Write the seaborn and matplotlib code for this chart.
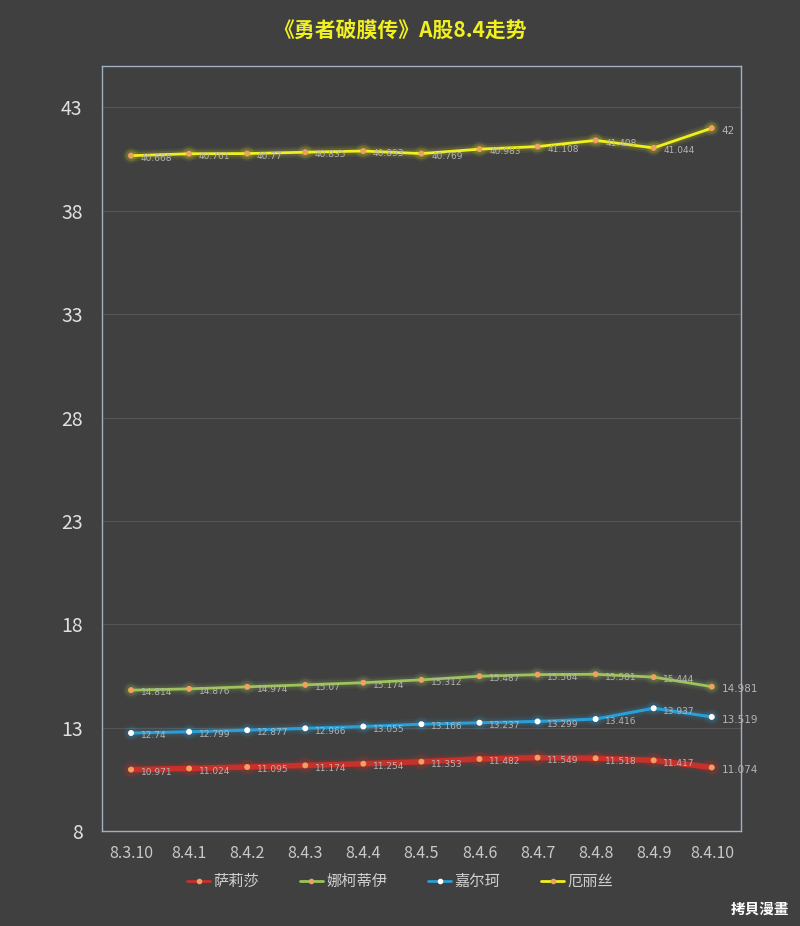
import matplotlib
matplotlib.use("Agg")
import matplotlib.pyplot as plt
import matplotlib.patheffects as pe
import seaborn as sns
import pandas as pd
from matplotlib.lines import Line2D

dates = ["8.3.10", "8.4.1", "8.4.2", "8.4.3", "8.4.4", "8.4.5", "8.4.6", "8.4.7", "8.4.8", "8.4.9", "8.4.10"]
series_names = ["萨莉莎", "娜柯蒂伊", "嘉尔珂", "厄丽丝"]
salisha = [10.971, 11.024, 11.095, 11.174, 11.254, 11.353, 11.482, 11.549, 11.518, 11.417, 11.074]
nakediyi = [14.814, 14.876, 14.974, 15.07, 15.174, 15.312, 15.487, 15.564, 15.581, 15.444, 14.981]
jiaerke = [12.74, 12.799, 12.877, 12.966, 13.055, 13.166, 13.237, 13.299, 13.416, 13.937, 13.519]
elisi = [40.668, 40.761, 40.77, 40.835, 40.893, 40.769, 40.983, 41.108, 41.408, 41.044, 42]
yticks = [8, 13, 18, 23, 28, 33, 38, 43]

values = [salisha, nakediyi, jiaerke, elisi]
colors = ["#c8302a", "#9cc45a", "#2a9fd6", "#f0f020"]
widths = [4.0, 2.0, 2.2, 2.0]
mcolors = ["#f0a060", "#f0a060", "#ffffff", "#f0a060"]

rows = []
for name, vals in zip(series_names, values):
    for i, (d, v) in enumerate(zip(dates, vals)):
        rows.append({"date": d, "idx": i, "value": v, "series": name})
df = pd.DataFrame(rows)

sns.set_theme(style="dark")
plt.rcParams['font.family'] = ['Noto Sans CJK SC', 'DejaVu Sans']
bg = "#404040"
fig = plt.figure(figsize=(8, 9.26), dpi=100, facecolor=bg)
ax = fig.add_axes([0.1275, 0.1026, 0.7985, 0.826])
ax.set_facecolor(bg)

sns.lineplot(data=df, x="idx", y="value", hue="series", palette=dict(zip(series_names, colors)),
             hue_order=series_names, ax=ax, legend=False, sort=False)

for line, lw, mc in zip(ax.get_lines(), widths, mcolors):
    line.set_linewidth(lw)
    line.set_marker("o")
    line.set_markersize(3.5)
    line.set_markerfacecolor(mc)
    line.set_markeredgecolor(mc)
    line.set_path_effects([pe.Stroke(linewidth=lw + 6, foreground=line.get_color(), alpha=0.07),
                           pe.Stroke(linewidth=lw + 3, foreground=line.get_color(), alpha=0.12),
                           pe.Normal()])

for k, vals in enumerate(values):
    for i, v in enumerate(vals):
        fs = 7.5 if i == len(vals) - 1 else 6.5
        ax.annotate(f"{v:g}", (i, v), xytext=(7, -2), textcoords="offset points",
                    fontsize=fs, color="#b4b4b4", va="center", ha="left", family="DejaVu Sans")

ax.set_xlim(-0.5, 10.5)
ax.set_ylim(8, 45)
ax.set_yticks(yticks)
ax.set_xticks(range(len(dates)))
ax.set_xticklabels(dates)
ax.tick_params(axis="x", colors="#c8c8c8", labelsize=11.5, pad=10, length=0)
ax.tick_params(axis="y", colors="#e0e0e0", labelsize=14, pad=14, length=0)
ax.set_xlabel("")
ax.set_ylabel("")
ax.grid(axis="y", color="#555555", linewidth=0.8)
ax.grid(axis="x", visible=False)
for s in ax.spines.values():
    s.set_visible(True)
    s.set_color("#9fb0c0")
    s.set_linewidth(1.0)

handles = [Line2D([0], [0], color=c, lw=2, marker="o", markersize=3, markerfacecolor=mc, markeredgecolor=mc)
           for c, mc in zip(colors, mcolors)]
leg = fig.legend(handles, series_names, loc="center", bbox_to_anchor=(0.5, 0.048), ncol=4,
                 frameon=False, fontsize=11, labelcolor="#d0d0d0", handlelength=1.5,
                 columnspacing=2.7, handletextpad=0.2)

fig.text(0.5, 0.968, "《勇者破膜传》A股8.4走势", ha="center", va="center", color="#f0f020",
         fontsize=15, fontweight="bold")
fig.text(0.987, 0.019, "拷貝漫畫", ha="right", va="center", color="white", fontsize=10.5,
         fontweight="bold", family=["Noto Sans CJK TC", "DejaVu Sans"])

fig.savefig("out.png", dpi=100, facecolor=bg)
